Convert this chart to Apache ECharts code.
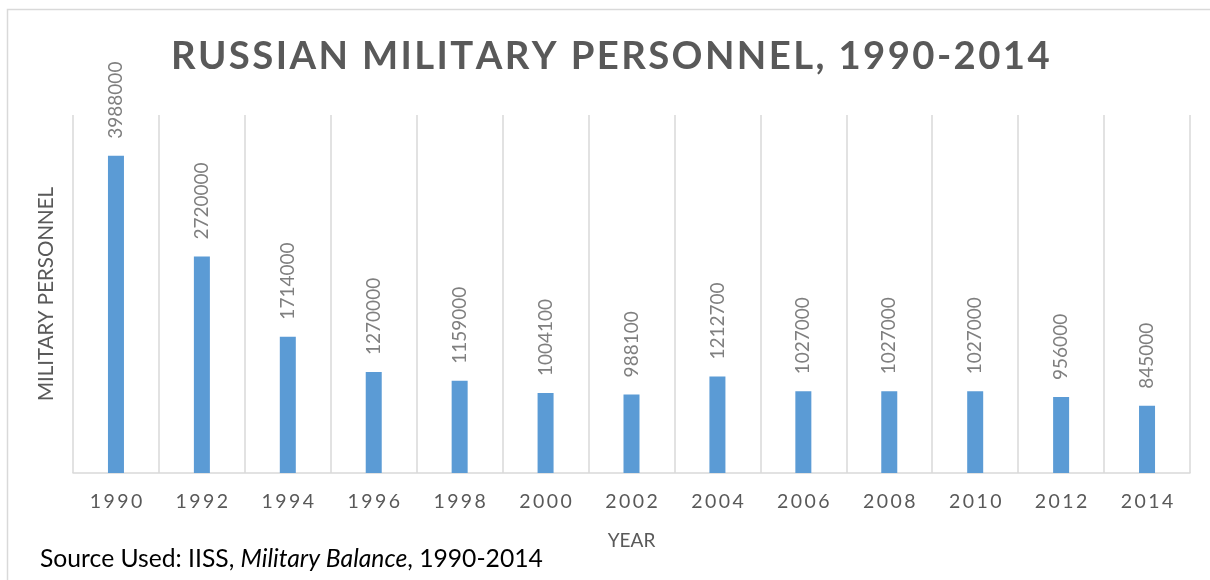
<!DOCTYPE html>
<html>
<head>
<meta charset="utf-8">
<script src="https://cdn.jsdelivr.net/npm/echarts@6/dist/echarts.min.js"></script>
<style>html,body{margin:0;padding:0;background:#fff;}#c{width:1210px;height:580px;}</style>
</head>
<body>
<div id="c"></div>
<script>
var titleText = 'RUSSIAN MILITARY PERSONNEL, 1990-2014';
var years = ['1990','1992','1994','1996','1998','2000','2002','2004','2006','2008','2010','2012','2014'];
var personnel = [3988000, 2720000, 1714000, 1270000, 1159000, 1004100, 988100, 1212700, 1027000, 1027000, 1027000, 956000, 845000];
var yAxisName = 'MILITARY PERSONNEL';
var xAxisName = 'YEAR';

function spaced(s, sp) { return s.split('').join(sp); }

var chart = echarts.init(document.getElementById('c'));
chart.setOption({
  animation: false,
  backgroundColor: '#fff',
  graphic: [{
    type: 'rect', silent: true,
    shape: {x: 7.5, y: 9.5, width: 1300, height: 700},
    style: {fill: 'none', stroke: '#d9d9d9', lineWidth: 1.5}
  }],
  title: [{
    text: spaced(titleText, '\u200A'),
    left: 166, top: 33,
    textStyle: {fontFamily: 'Lato', fontWeight: 'bold', fontSize: 38.3, color: '#595959'}
  }, {
    text: '{n|Source Used: IISS, }{i|Military Balance}{n|, 1990-2014}',
    left: 35, top: 542,
    textStyle: {
      fontWeight: 'normal',
      rich: {
        n: {fontFamily: 'Lato', fontSize: 24.7, fontWeight: 'normal', color: '#000'},
        i: {fontFamily: 'Lato', fontSize: 24.7, fontWeight: 'normal', color: '#000', fontStyle: 'italic'}
      }
    }
  }],
  grid: {left: 73, right: 20, top: 115, bottom: 107},
  xAxis: {
    type: 'category', data: years,
    name: xAxisName, nameLocation: 'middle', nameGap: 58,
    nameTextStyle: {fontFamily: 'Lato', fontSize: 19, color: '#595959'},
    axisLine: {lineStyle: {color: '#d9d9d9', width: 1.5}},
    axisTick: {show: false},
    splitLine: {show: true, lineStyle: {color: '#d9d9d9', width: 1.5}},
    axisLabel: {
      margin: 19, fontFamily: 'Lato', fontSize: 19.5, color: '#595959',
      formatter: function (v) { return spaced(v, '\u2009'); }
    }
  },
  yAxis: {
    type: 'value', min: 0, max: 4500000,
    name: yAxisName, nameLocation: 'middle', nameGap: 16, nameRotate: 90,
    nameTextStyle: {fontFamily: 'Lato', fontSize: 20.5, color: '#595959'},
    axisLine: {show: false}, axisTick: {show: false},
    axisLabel: {show: false}, splitLine: {show: false}
  },
  series: [{
    type: 'bar', data: personnel, barWidth: 16,
    itemStyle: {color: '#5B9BD5'},
    label: {
      show: true, position: 'top', rotate: 90, align: 'left', verticalAlign: 'middle',
      distance: 17, fontFamily: 'Lato', fontSize: 19, color: '#7f7f7f'
    }
  }]
});
</script>
</body>
</html>
